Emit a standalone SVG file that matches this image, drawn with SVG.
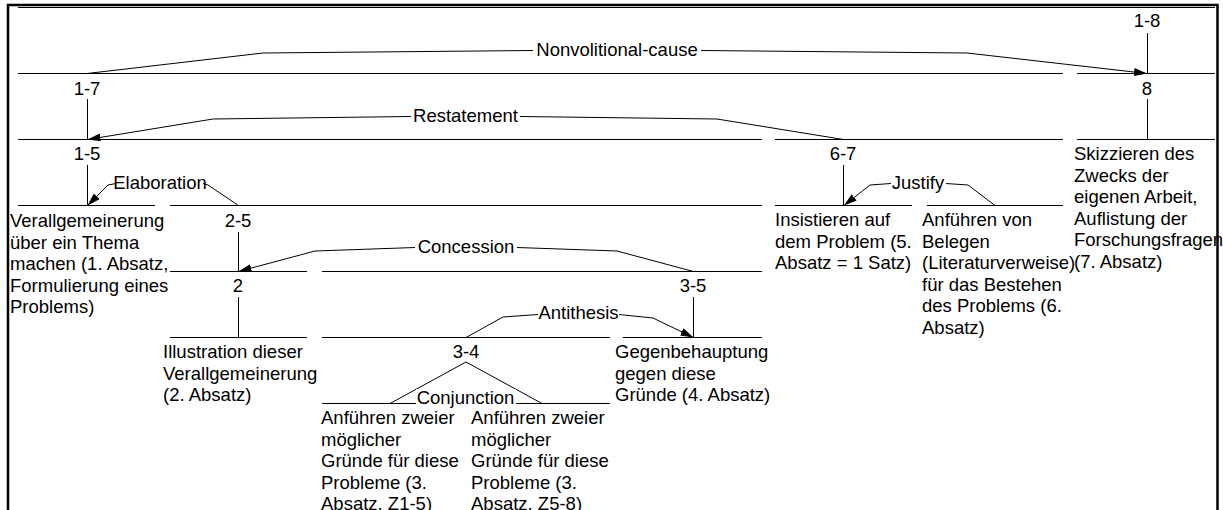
<svg xmlns="http://www.w3.org/2000/svg" width="1223" height="510" viewBox="0 0 1223 510">
<style>
.ln{stroke:#000;stroke-width:1;fill:none}
.t{font-family:"Liberation Sans",Arial,Helvetica,sans-serif;font-size:18.5px;fill:#000}
.c{text-anchor:middle}
.bg{fill:#fff}
</style>
<defs>
<marker id="ah" viewBox="0 0 13 8" refX="13" refY="4" markerWidth="13" markerHeight="8" orient="auto" markerUnits="userSpaceOnUse"><path d="M0,0 L13,4 L0,8 z" fill="#000"/></marker>
</defs>
<rect x="0" y="0" width="1223" height="510" fill="#fff"/>
<g id="connectors">
<path class="ln" d="M87,73.5 L263,53 L533,50.5"/>
<path class="ln" d="M701,50.5 L967,53 L1147,73.5" marker-end="url(#ah)"/>
<path class="ln" d="M843.5,139.5 L717,119 L520,116.5"/>
<path class="ln" d="M411,116.5 L213,119 L87.5,139.5" marker-end="url(#ah)"/>
<path class="ln" d="M238.5,205.5 L208,185 L203,183.5"/>
<path class="ln" d="M116,183.5 L108,185 L87.5,205.5" marker-end="url(#ah)"/>
<path class="ln" d="M693.5,271.5 L617,251 L517,247.5"/>
<path class="ln" d="M415,247.5 L315,251 L238.5,271.5" marker-end="url(#ah)"/>
<path class="ln" d="M466,337.5 L503,317 L538,314.5"/>
<path class="ln" d="M619,314.5 L653,318 L693.5,337.5" marker-end="url(#ah)"/>
<path class="ln" d="M995,205.5 L968,185 L946,183.5"/>
<path class="ln" d="M891,183.5 L870,185 L844,205.5" marker-end="url(#ah)"/>
<path class="ln" d="M390,403.5 L466,362 L542,403.5"/>
</g>
<g id="relation-labels">
<text class="t c" x="617" y="56">Nonvolitional-cause</text>
<text class="t c" x="465.5" y="122">Restatement</text>
<text class="t c" x="160" y="189">Elaboration</text>
<text class="t c" x="466" y="253">Concession</text>
<text class="t c" x="578.5" y="319">Antithesis</text>
<text class="t c" x="918" y="189">Justify</text>
</g>
<g id="n1-8">
<line class="ln" x1="18" y1="7.5" x2="1215" y2="7.5"/>
<text class="t c" x="1147" y="27">1-8</text>
<line class="ln" x1="1147.5" y1="33" x2="1147.5" y2="73"/>
</g>
<g id="n1-7">
<line class="ln" x1="18" y1="73.5" x2="1063" y2="73.5"/>
<text class="t c" x="87" y="95">1-7</text>
<line class="ln" x1="87.5" y1="99" x2="87.5" y2="139"/>
</g>
<g id="n8">
<line class="ln" x1="1077" y1="73.5" x2="1215" y2="73.5"/>
<text class="t c" x="1147" y="95">8</text>
<line class="ln" x1="1147.5" y1="99" x2="1147.5" y2="139"/>
</g>
<g id="n1-5">
<line class="ln" x1="18" y1="139.5" x2="762" y2="139.5"/>
<text class="t c" x="87" y="160">1-5</text>
<line class="ln" x1="87.5" y1="165" x2="87.5" y2="205"/>
</g>
<g id="n6-7">
<line class="ln" x1="775" y1="139.5" x2="1063" y2="139.5"/>
<text class="t c" x="843" y="160">6-7</text>
<line class="ln" x1="843.5" y1="165" x2="843.5" y2="205"/>
</g>
<g id="leaf8">
<line class="ln" x1="1077" y1="139.5" x2="1215" y2="139.5"/>
<text class="t"><tspan x="1074" y="160">Skizzieren des</tspan><tspan x="1074" y="181.5">Zwecks der</tspan><tspan x="1074" y="203">eigenen Arbeit,</tspan><tspan x="1074" y="224.5">Auflistung der</tspan><tspan x="1074" y="246">Forschungsfragen</tspan><tspan x="1074" y="267.5">(7. Absatz)</tspan></text>
</g>
<g id="leaf1">
<line class="ln" x1="18" y1="205.5" x2="155" y2="205.5"/>
<text class="t"><tspan x="10" y="227">Verallgemeinerung</tspan><tspan x="10" y="248.5">über ein Thema</tspan><tspan x="10" y="270">machen (1. Absatz,</tspan><tspan x="10" y="291.5">Formulierung eines</tspan><tspan x="10" y="313">Problems)</tspan></text>
</g>
<g id="n2-5">
<line class="ln" x1="170" y1="205.5" x2="762" y2="205.5"/>
<text class="t c" x="238" y="227">2-5</text>
<line class="ln" x1="238.5" y1="232" x2="238.5" y2="271"/>
</g>
<g id="leaf5">
<line class="ln" x1="775" y1="205.5" x2="912" y2="205.5"/>
<text class="t"><tspan x="775" y="226">Insistieren auf</tspan><tspan x="775" y="247.5">dem Problem (5.</tspan><tspan x="775" y="269">Absatz = 1 Satz)</tspan></text>
</g>
<g id="leaf6">
<line class="ln" x1="927" y1="205.5" x2="1063" y2="205.5"/>
<text class="t"><tspan x="922" y="226">Anführen von</tspan><tspan x="922" y="247.5">Belegen</tspan><tspan x="922" y="269">(Literaturverweise)</tspan><tspan x="922" y="290.5">für das Bestehen</tspan><tspan x="922" y="312">des Problems (6.</tspan><tspan x="922" y="333.5">Absatz)</tspan></text>
</g>
<g id="n2">
<line class="ln" x1="170" y1="271.5" x2="307" y2="271.5"/>
<text class="t c" x="238" y="292">2</text>
<line class="ln" x1="238.5" y1="297" x2="238.5" y2="337"/>
</g>
<g id="n3-5">
<line class="ln" x1="322" y1="271.5" x2="762" y2="271.5"/>
<text class="t c" x="693" y="292">3-5</text>
<line class="ln" x1="693.5" y1="297" x2="693.5" y2="337"/>
</g>
<g id="leaf2">
<line class="ln" x1="170" y1="337.5" x2="307" y2="337.5"/>
<text class="t"><tspan x="163" y="358">Illustration dieser</tspan><tspan x="163" y="379.5">Verallgemeinerung</tspan><tspan x="163" y="401">(2. Absatz)</tspan></text>
</g>
<g id="n3-4">
<line class="ln" x1="322" y1="337.5" x2="610" y2="337.5"/>
<text class="t c" x="466" y="358">3-4</text>
</g>
<g id="leaf4">
<line class="ln" x1="623" y1="337.5" x2="762" y2="337.5"/>
<text class="t"><tspan x="615" y="358">Gegenbehauptung</tspan><tspan x="615" y="379.5">gegen diese</tspan><tspan x="615" y="401">Gründe (4. Absatz)</tspan></text>
</g>
<g id="leaf3a">
<line class="ln" x1="322" y1="403.5" x2="460" y2="403.5"/>
<text class="t"><tspan x="321" y="424">Anführen zweier</tspan><tspan x="321" y="445.5">möglicher</tspan><tspan x="321" y="467">Gründe für diese</tspan><tspan x="321" y="488.5">Probleme (3.</tspan><tspan x="321" y="510">Absatz, Z1-5)</tspan></text>
</g>
<g id="leaf3b">
<line class="ln" x1="472" y1="403.5" x2="610" y2="403.5"/>
<text class="t"><tspan x="471" y="424">Anführen zweier</tspan><tspan x="471" y="445.5">möglicher</tspan><tspan x="471" y="467">Gründe für diese</tspan><tspan x="471" y="488.5">Probleme (3.</tspan><tspan x="471" y="510">Absatz, Z5-8)</tspan></text>
</g>
<g id="conjunction-label">
<rect class="bg" x="416" y="389" width="100" height="17"/>
<text class="t c" x="465.5" y="404">Conjunction</text>
</g>
<g id="frame">
<path d="M8,520 L8,5 L1217.5,5 L1217.5,520" fill="none" stroke="#000" stroke-width="2.5"/>
</g>
</svg>
